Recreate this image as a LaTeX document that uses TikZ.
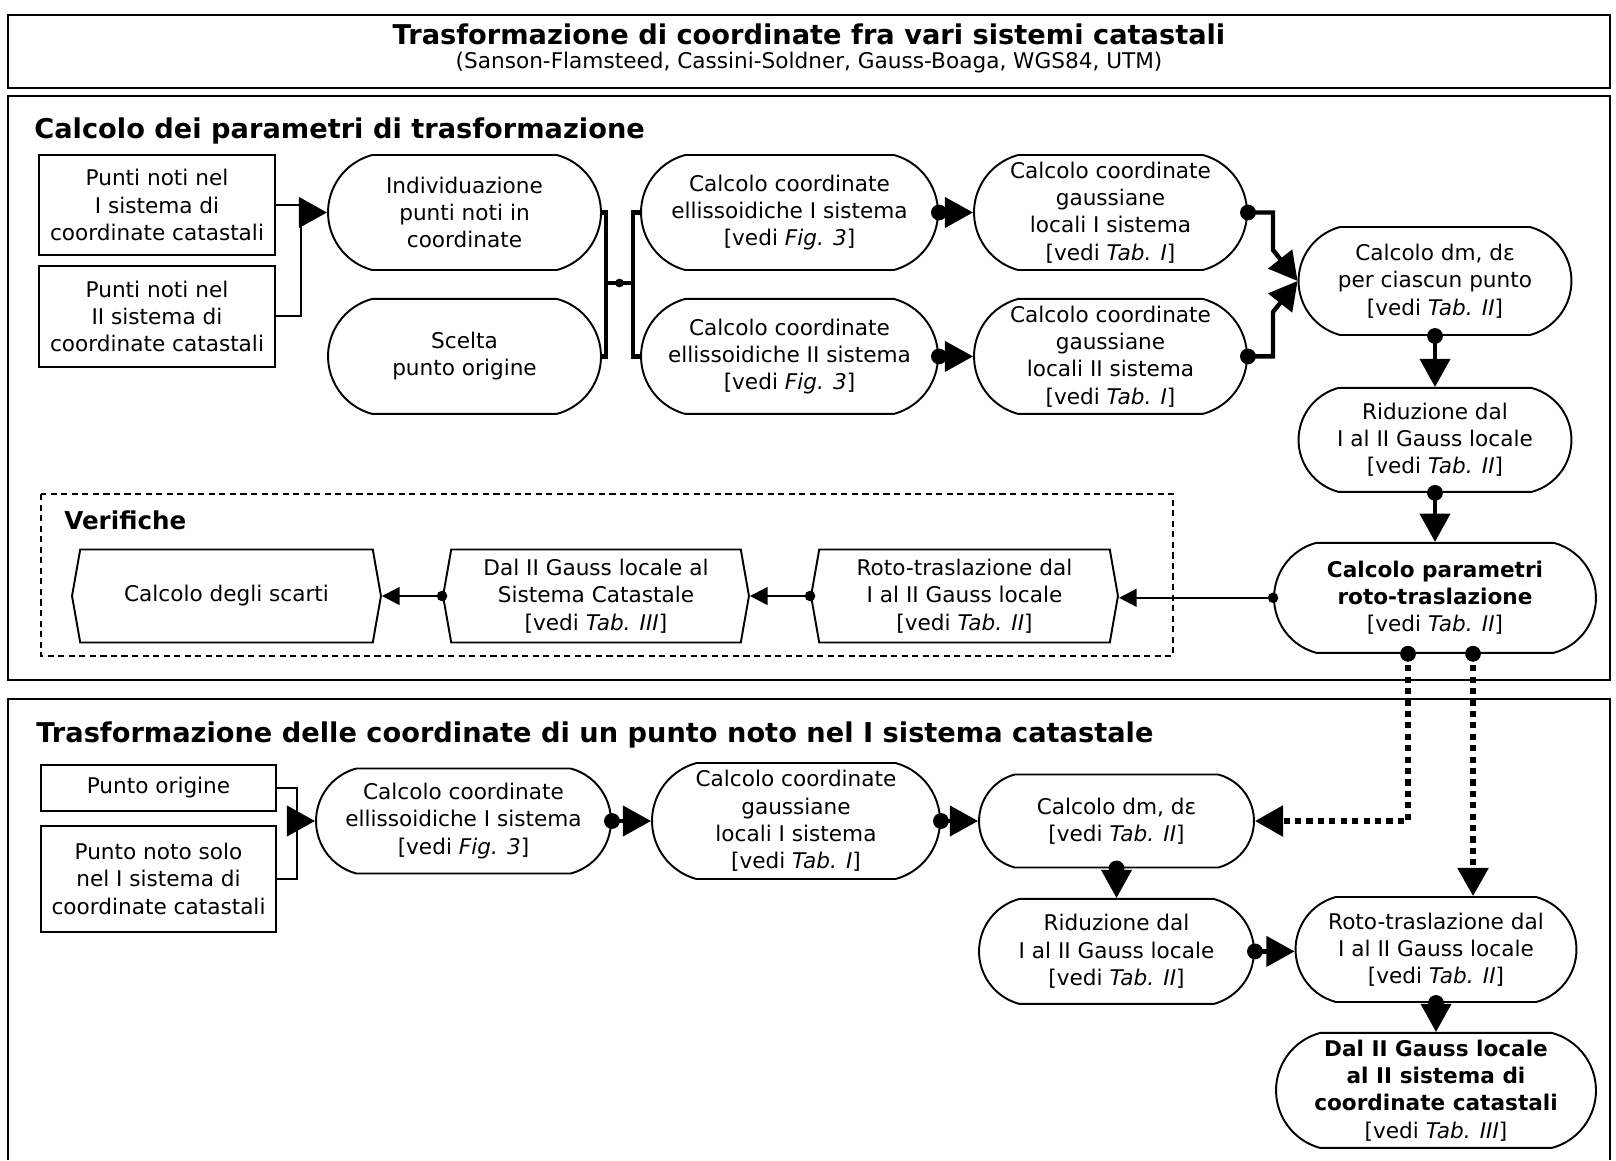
\documentclass[tikz,border=0pt]{standalone}
\usepackage{fontspec}
\setmainfont{DejaVu Sans}
\usetikzlibrary{arrows.meta,positioning,shapes.misc,shapes.symbols,calc}
\tikzset{
frame/.style={draw,line width=1.4pt},
fixed/.style={draw,rectangle,line width=1.1pt,align=center,inner sep=0pt,font=\fontsize{12.3}{15.5}\selectfont},
pill/.style={draw,rounded rectangle,rounded rectangle arc length=150,line width=1.1pt,align=center,inner sep=0pt,font=\fontsize{12.3}{15.5}\selectfont},
check/.style={draw,signal,signal to=west and east,signal pointer angle=160,line width=1.1pt,align=center,inner sep=0pt,font=\fontsize{12.3}{15.5}\selectfont},
heading/.style={anchor=west,inner sep=0pt,font=\fontsize{15.5}{18}\selectfont\bfseries},
flow/.style={line width=2.5pt,-{Triangle[length=16pt,width=17pt]}},
bus/.style={line width=2.8pt},
joinline/.style={line width=1.1pt},
thinflow/.style={line width=1.4pt,-{Triangle[length=10pt,width=10pt]}},
dotflow/.style={line width=3.4pt,dash pattern=on 3.5pt off 3pt,-{Triangle[length=16pt,width=17pt]}}
}
\begin{document}
\begin{tikzpicture}[x=0.02cm,y=-0.02cm]
\useasboundingbox (0,0) rectangle (1616,1160);
% title
\draw[frame] (8,15) rectangle (1610,88);
\node[inner sep=0pt,font=\fontsize{15.5}{18}\selectfont\bfseries](title) at (809,34){Trasformazione di coordinate fra vari sistemi catastali};
\node[inner sep=0pt,font=\fontsize{12.3}{15.5}\selectfont](subtitle) at (809,63){(Sanson-Flamsteed, Cassini-Soldner, Gauss-Boaga, WGS84, UTM)};
% parametri
\draw[frame] (8,96) rectangle (1610,680);
\node[heading](head1) at (34,131){Calcolo dei parametri di trasformazione};
\node[fixed,minimum width=4.72cm,minimum height=2cm](p1) at (157,205){Punti noti nel\\I sistema di\\coordinate catastali};
\node[fixed,minimum width=4.72cm,minimum height=2.02cm,below=0.18cm of p1](p2){Punti noti nel\\II sistema di\\coordinate catastali};
\node[pill,minimum width=5.46cm,minimum height=2.3cm](indiv) at (464.5,212.5){Individuazione\\punti noti in\\coordinate};
\node[pill,minimum width=5.46cm,minimum height=2.3cm,below=0.54cm of indiv](scelta){Scelta\\punto origine};
\node[pill,minimum width=5.94cm,minimum height=2.3cm](ell1) at (789.5,212.5){Calcolo coordinate\\ellissoidiche I sistema\\{}[vedi \textit{Fig. 3}]};
\node[pill,minimum width=5.94cm,minimum height=2.3cm,below=0.54cm of ell1](ell2){Calcolo coordinate\\ellissoidiche II sistema\\{}[vedi \textit{Fig. 3}]};
\node[pill,minimum width=5.46cm,minimum height=2.3cm](gau1) at (1110.5,212.5){Calcolo coordinate\\gaussiane\\locali I sistema\\{}[vedi \textit{Tab. I}]};
\node[pill,minimum width=5.46cm,minimum height=2.3cm,below=0.54cm of gau1](gau2){Calcolo coordinate\\gaussiane\\locali II sistema\\{}[vedi \textit{Tab. I}]};
\node[pill,minimum width=5.46cm,minimum height=2.16cm](dmde) at (1435,281){Calcolo dm, dε\\per ciascun punto\\{}[vedi \textit{Tab. II}]};
\node[pill,minimum width=5.46cm,minimum height=2.08cm,below=1.02cm of dmde](rid){Riduzione dal\\I al II Gauss locale\\{}[vedi \textit{Tab. II}]};
\node[pill,minimum width=6.44cm,minimum height=2.2cm,below=0.98cm of rid](par){\textbf{Calcolo parametri}\\\textbf{roto-traslazione}\\{}[vedi \textit{Tab. II}]};
% verifiche
\draw[line width=1pt,dash pattern=on 3.5pt off 2.5pt] (41,494) rectangle (1173,656);
\node[heading,font=\fontsize{14}{17}\selectfont\bfseries](head3) at (64,520){Verifiche};
\node[check,minimum width=6.18cm,minimum height=1.86cm](scarti) at (226.5,596){Calcolo degli scarti};
\node[check,minimum width=6.12cm,minimum height=1.86cm](gl) at (596,596){Dal II Gauss locale al\\Sistema Catastale\\{}[vedi \textit{Tab. III}]};
\node[check,minimum width=6.14cm,minimum height=1.86cm](rt) at (964.5,596){Roto-traslazione dal\\I al II Gauss locale\\{}[vedi \textit{Tab. II}]};
% trasformazione
\draw[frame] (8,1160) -- (8,699) -- (1610,699) -- (1610,1160);
\node[heading](head2) at (36,735){Trasformazione delle coordinate di un punto noto nel I sistema catastale};
\node[fixed,minimum width=4.7cm,minimum height=0.92cm](po) at (158.5,788){Punto origine};
\node[fixed,minimum width=4.7cm,minimum height=2.12cm,below=0.26cm of po](pn){Punto noto solo\\nel I sistema di\\coordinate catastali};
\node[pill,minimum width=5.9cm,minimum height=2.1cm](ell3) at (463.5,821){Calcolo coordinate\\ellissoidiche I sistema\\{}[vedi \textit{Fig. 3}]};
\node[pill,minimum width=5.76cm,minimum height=2.32cm](gau3) at (796,821){Calcolo coordinate\\gaussiane\\locali I sistema\\{}[vedi \textit{Tab. I}]};
\node[pill,minimum width=5.5cm,minimum height=1.86cm](dm2) at (1116.5,821){Calcolo dm, dε\\{}[vedi \textit{Tab. II}]};
\node[pill,minimum width=5.5cm,minimum height=2.1cm,below=0.59cm of dm2](rid2){Riduzione dal\\I al II Gauss locale\\{}[vedi \textit{Tab. II}]};
\node[pill,minimum width=5.62cm,minimum height=2.1cm](rt2) at (1436,949.5){Roto-traslazione dal\\I al II Gauss locale\\{}[vedi \textit{Tab. II}]};
\node[pill,minimum width=6.4cm,minimum height=2.3cm,below=0.58cm of rt2](fin){\textbf{Dal II Gauss locale}\\\textbf{al II sistema di}\\\textbf{coordinate catastali}\\{}[vedi \textit{Tab. III}]};
% connettori
\coordinate (j1) at (301,212.5);
\coordinate (j2) at (297,821);
\coordinate (busl) at (606,283);
\coordinate (busr) at (633,283);
\coordinate (d1) at ($(par.south)+(-27,0)$);
\coordinate (d2) at ($(par.south)+(38,0)$);
\draw[joinline] (p1.east) -| (j1) |- (p2.east);
\draw[flow] (j1) -- (indiv.west);
\draw[bus] (indiv.east) -| (busl) |- (scelta.east);
\draw[bus] (ell1.west) -| (busr) |- (ell2.west);
\draw[bus] (busl) -- (busr);
\draw[flow] (ell1.east) -- (gau1.west);
\draw[flow] (ell2.east) -- (gau2.west);
\draw[flow] (gau1.east) -| (1273,250) -- (dmde.west);
\draw[flow] (gau2.east) -| (1273,312) -- (dmde.west);
\draw[flow] (dmde.south) -- (rid.north);
\draw[flow] (rid.south) -- (par.north);
\draw[thinflow] (par.west) -- (par.west -| rt.east);
\draw[thinflow] (rt.west) -- (gl.east);
\draw[thinflow] (gl.west) -- (scarti.east);
\draw[dotflow] (d1) |- (dm2.east);
\draw[dotflow] (d2) -- (d2 |- rt2.north);
\draw[joinline] (po.east) -| (j2) |- (pn.east);
\draw[flow] (j2) -- (ell3.west);
\draw[flow] (ell3.east) -- (gau3.west);
\draw[flow] (gau3.east) -- (dm2.west);
\draw[flow] (dm2.south) -- (rid2.north);
\draw[flow] (rid2.east) -- (rid2.east -| rt2.west);
\draw[flow] (rt2.south) -- (rt2.south |- fin.north);
\foreach \p in {ell1.east,ell2.east,gau1.east,gau2.east,dmde.south,rid.south,d1,d2,ell3.east,gau3.east,dm2.south,rid2.east,rt2.south}
  \fill (\p) circle (4.5pt);
\foreach \p in {par.west,rt.west,gl.west}
  \fill (\p) circle (3pt);
\fill ($(busl)!.5!(busr)$) circle (2.5pt);
\end{tikzpicture}
\end{document}
